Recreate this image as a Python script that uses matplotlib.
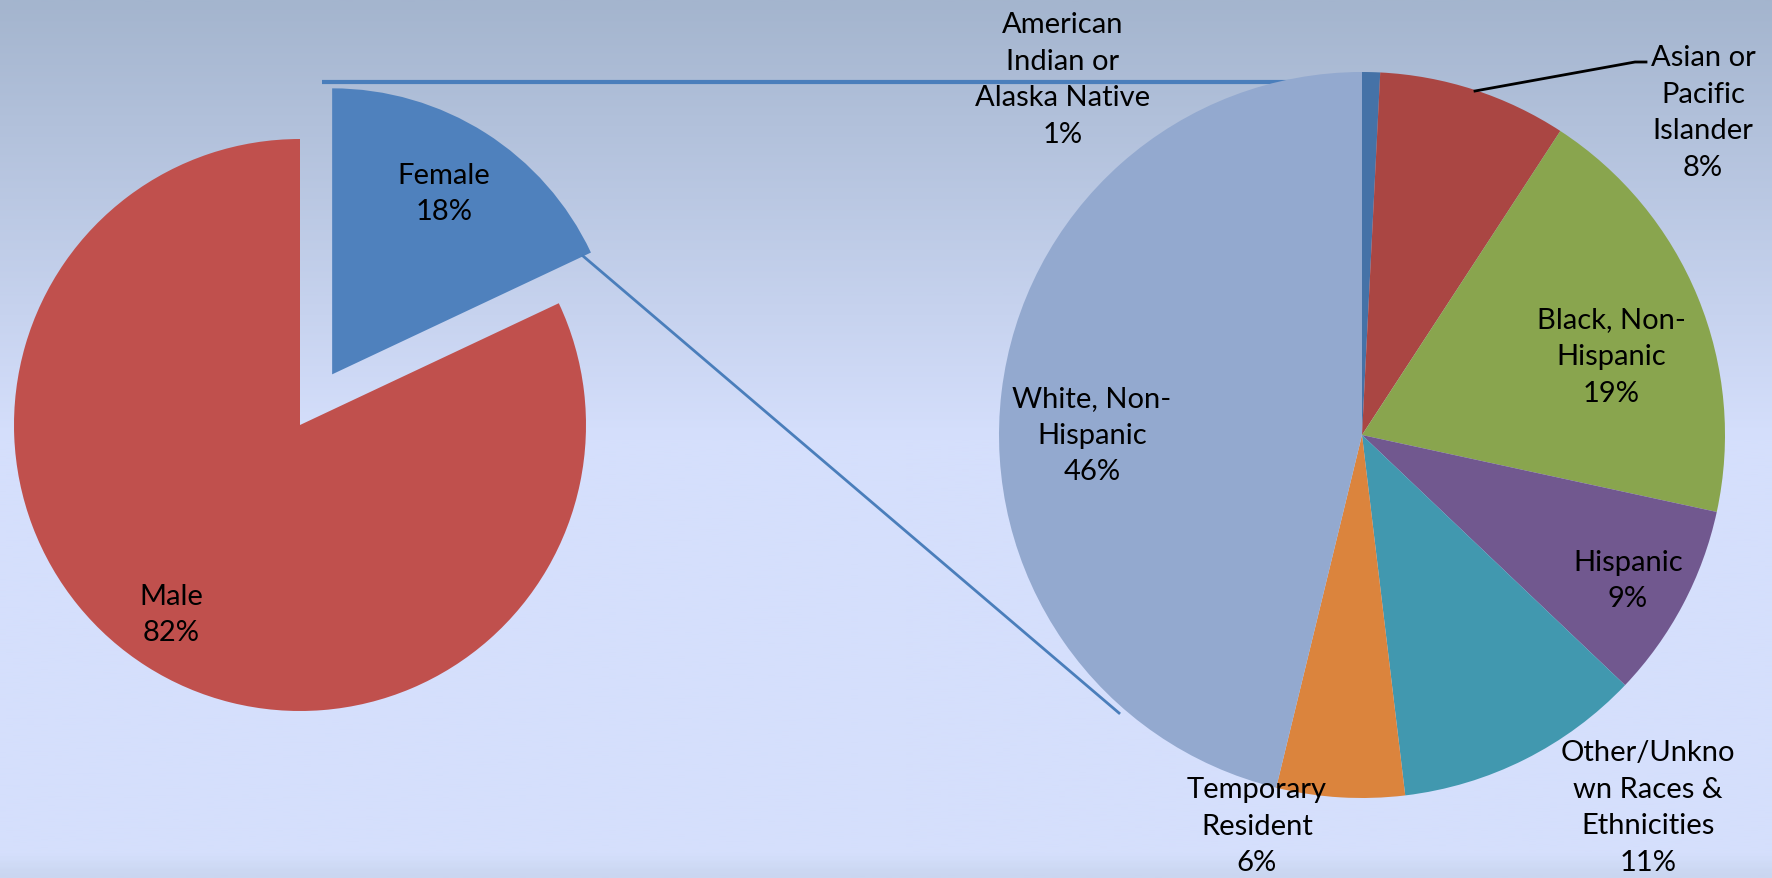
import numpy as np
import matplotlib.pyplot as plt
from matplotlib.colors import LinearSegmentedColormap

# Gender split (left pie)
gender = ['Female', 'Male']
gender_pct = [18, 82]
gender_colors = ['#4F81BD', '#C0504D']

# Race / ethnicity breakdown (right pie), clockwise from the top
race = ['American\nIndian or\nAlaska Native', 'Asian or\nPacific\nIslander', 'Black, Non-\nHispanic',
        'Hispanic', 'Other/Unkno\nwn Races &\nEthnicities', 'Temporary\nResident', 'White, Non-\nHispanic']
race_pct = [0.8, 8.4, 19.2, 8.7, 11.0, 5.7, 46.2]
race_colors = ['#4572A7', '#AA4643', '#89A54E', '#71588F', '#4198AF', '#DB843D', '#93A9CF']

W, H = 1772, 879
fig = plt.figure(figsize=(W / 100, H / 100), dpi=100)
ax = fig.add_axes([0, 0, 1, 1])

# background gradient (top darker, lower half flat light blue)
cmap = LinearSegmentedColormap.from_list('bg', [(0, '#CAD6F0'), (0.025, '#D5DFFC'), (0.5, '#D5DFFC'),
                                                (1.0, '#A4B5CE')])
grad = np.linspace(0, 1, 400).reshape(-1, 1)
ax.imshow(grad, extent=[0, W, 0, H], origin='lower', aspect='auto', cmap=cmap, zorder=0)

def y(v):
    return H - v

font = dict(family=['Lato', 'DejaVu Sans'], fontsize=21, color='black', ha='center', va='center',
            linespacing=1.5, zorder=10)

# left pie (explode is in data units here, i.e. pixels)
ax.pie(gender_pct, colors=gender_colors, startangle=90, counterclock=False, explode=[60, 0],
       radius=286, center=(300, y(426)), wedgeprops=dict(linewidth=0), frame=True)

# connector lines (behind right pie)
ax.plot([322, 1360], [y(82.5), y(82.5)], color='#4A7EBB', lw=3, zorder=1, solid_capstyle='butt')
ax.plot([583, 1119], [y(257), y(714)], color='#4A7EBB', lw=2, zorder=1)

# right pie
ax.pie(race_pct, colors=race_colors, startangle=90, counterclock=False,
       radius=363, center=(1362, y(436)), wedgeprops=dict(linewidth=0, zorder=3), frame=True)
ax.set_xlim(0, W)
ax.set_ylim(0, H)
ax.set_aspect('equal')
ax.axis('off')

# labels
gender_pos = [(444, 194), (171, 615)]
for name, v, (px, py) in zip(gender, gender_pct, gender_pos):
    ax.text(px, y(py), f'{name}\n{v}%', **font)

race_pos = [(1063, 80), (1703, 113), (1611, 357), (1628, 581), (1648, 808), (1257, 827), (1092, 436)]
for name, v, (px, py) in zip(race, race_pct, race_pos):
    ax.text(px, y(py), f'{name}\n{v:.0f}%', **font)

# leader line for Asian or Pacific Islander
ax.plot([1475, 1635, 1646], [y(92), y(63), y(63)], color='black', lw=2, zorder=5)

plt.savefig('out.png', dpi=100)
